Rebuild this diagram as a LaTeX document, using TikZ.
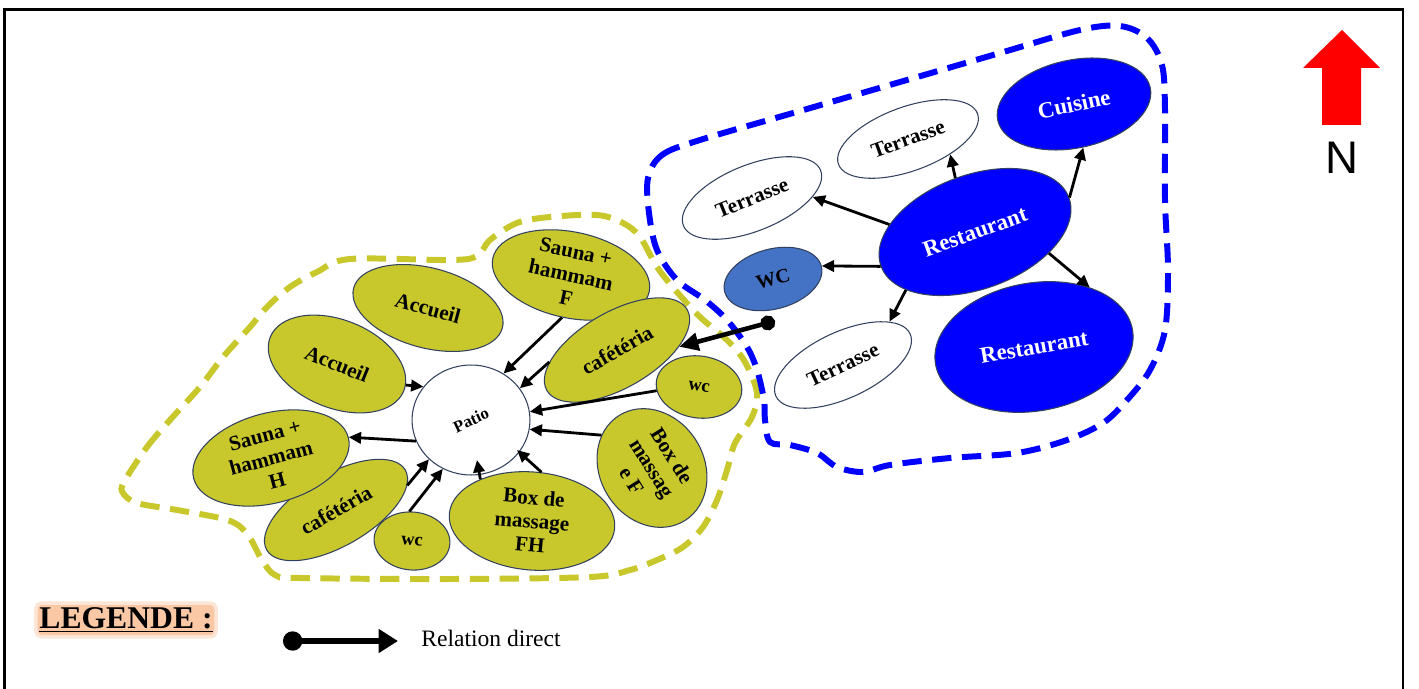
\documentclass[tikz,border=0pt]{standalone}
\usepackage{fontspec}
\setmainfont{Liberation Serif}
\newfontfamily\northfont{Liberation Sans}
\usepackage{xcolor}
\usepackage{graphicx}
\usetikzlibrary{shapes.geometric, arrows.meta, calc}

\definecolor{zoneolive}{RGB}{200,200,45}
\definecolor{zoneblue}{RGB}{0,0,255}
\definecolor{wcblue}{RGB}{68,114,196}
\definecolor{edgecol}{RGB}{50,65,95}
\definecolor{glow}{RGB}{250,200,165}

\begin{document}
\begin{tikzpicture}[x=0.02cm, y=-0.02cm,
    % One unit is one pixel of the plan, y runs downwards
    every node/.style={inner sep=0pt, font=\bfseries},
    room/.style={ellipse, draw=edgecol, line width=0.6pt, align=center, inner sep=-4pt},
    yroom/.style={room, fill=zoneolive, font=\bfseries\fontsize{12}{13.5}\selectfont},
    wroom/.style={room, fill=white, font=\bfseries\fontsize{12}{13}\selectfont},
    broom/.style={room, fill=zoneblue, text=white, font=\bfseries\fontsize{13}{14}\selectfont},
    semi/.style 2 args={minimum width=#1*0.04cm, minimum height=#2*0.04cm},
    rel/.style={-{Triangle[length=7pt,width=6.5pt]}, line width=1.6pt},
    bigrel/.style={{Circle[length=8.5pt]}-{Triangle[length=11pt,width=10pt]}, line width=2.6pt},
    zone/.style={line width=3.4pt, dash pattern=on 11pt off 6pt}
  ]
  \useasboundingbox (0,0) rectangle (1419,689);

  % --- Frame ---
  \draw[line width=1.4pt] (4.5,700) -- (4.5,9.5) -- (1403,9.5) -- (1403,700);

  % --- Zones (dashed outlines) ---
  \draw[zone, draw=zoneolive] plot[smooth cycle, tension=0.55] coordinates {
      (124,482) (147,447) (170,420) (200,387) (223,357) (250,327) (267,307)
      (290,287) (317,272) (350,259) (450,260) (477,256) (490,240) (517,223)
      (550,217) (597,215) (623,223) (640,237) (657,267) (677,292) (700,317)
      (727,340) (745,362) (757,393) (752,417) (735,443) (727,470) (717,500)
      (703,527) (683,547) (657,560) (630,570) (590,577) (450,579) (300,578)
      (275,575) (262,560) (250,538) (238,525) (220,518) (177,510) (137,503)
      (123,493)};
  \draw[zone, draw=zoneblue] plot[smooth cycle, tension=0.55] coordinates {
      (648,178) (662,155) (700,140) (800,111) (900,82) (1000,53) (1080,30)
      (1120,26) (1147,38) (1162,65) (1165,110) (1165,200) (1168,270)
      (1165,330) (1150,370) (1127,400) (1103,423) (1067,440) (1017,453)
      (950,458) (890,465) (863,472) (837,467) (817,453) (790,445) (770,442)
      (765,420) (764,400) (757,370) (747,347) (727,320) (705,300) (677,280)
      (657,250) (649,213)};

  % --- Left zone: rooms around the patio ---
  \node[room, fill=white, semi={59}{55},
        font=\bfseries\fontsize{9.5}{10}\selectfont] (patio) at (471,420) {\rotatebox{25}{Patio}};
  \node[yroom, semi={77}{40}, rotate=-15] (accT) at (428,308) {Accueil};
  \node[yroom, semi={72}{44}, rotate=-22] (accL) at (337,364) {Accueil};
  \node[yroom, semi={80}{43}, rotate=-12] (saunaF) at (571,275) {Sauna +\\hammam\\F};
  \node[yroom, semi={81}{38}, rotate=30] (cafR) at (617,350) {cafétéria};
  \node[yroom, semi={43}{31}, rotate=-8, font=\bfseries\fontsize{10.5}{11}\selectfont] (wcR) at (699,387) {wc};
  \node[yroom, semi={62}{52}, rotate=-58] (boxF) at (652,468) {Box de\\massag\\e F};
  \node[yroom, semi={83}{49}, rotate=-5] (boxFH) at (532,521) {Box de\\massage\\FH};
  \node[yroom, semi={38}{29}, rotate=-5, font=\bfseries\fontsize{10.5}{11}\selectfont] (wcB) at (412,541) {wc};
  \node[yroom, semi={80}{36}, rotate=30] (cafL) at (336,510) {cafétéria};
  \node[yroom, semi={80}{45}, rotate=15] (saunaH) at (271,458) {Sauna +\\hammam\\H};

  \draw[rel] (saunaF.south) -- (patio.55);
  \draw[rel] (cafR.160) -- (patio.33);
  \draw[rel] (wcR.193) -- (patio.8);
  \draw[rel] (boxF.205) -- (patio.-9);
  \draw[rel] (boxFH.84) -- ($(patio.center)+(46,30)$);
  \draw[rel] (boxFH.146) -- ($(patio.center)+(6,40)$);
  \draw[rel] (wcB.100) -- (patio.-120);
  \draw[rel] (cafL.-11) -- (patio.-137);
  \draw[rel] (patio.-159) -- (saunaH.east);
  \draw[rel] (accL.5) -- (patio.145);

  % --- Right zone: restaurant ---
  \node[broom, semi={100}{57}, rotate=20] (resto) at (975,232) {Restaurant};
  \node[broom, semi={78}{44}, rotate=12] (cuisine) at (1074,104) {Cuisine};
  \node[wroom, semi={74}{32}, rotate=20] (terrT) at (908,139) {Terrasse};
  \node[wroom, semi={74}{33}, rotate=22] (terrL) at (752,198) {Terrasse};
  \node[room, fill=wcblue, semi={50}{30}, rotate=15,
        font=\bfseries\fontsize{11.3}{12}\selectfont] (wc) at (773,279) {WC};
  \node[wroom, semi={74}{33}, rotate=25] (terrB) at (843,365) {Terrasse};
  \node[broom, semi={100}{64}, rotate=10] (restoB) at (1034,347) {Restaurant};

  \draw[rel] (resto.north) -- (terrT.-40);
  \draw[rel] (resto.east) -- (cuisine.south);
  \draw[rel] (resto.155) -- (terrL.-21);
  \draw[rel] (resto.west) -- (wc.east);
  \draw[rel] (resto.200) -- (terrB.18);
  \draw[rel] (resto.-36) -- (restoB.37);

  % link between the two zones
  \coordinate (wcdot) at (775,321);
  \draw[bigrel] (wcdot) -- (cafR.-27);

  % --- North arrow ---
  \fill[red] (1342,30) -- (1380,68) -- (1361,68) -- (1361,125) -- (1322,125)
      -- (1322,68) -- (1303,68) -- cycle;
  \node[font=\northfont\fontsize{26}{26}\selectfont] (north) at (1342,158) {N};

  % --- Legend ---
  \node[fill=glow, draw=glow!45, line width=2pt, rounded corners=3pt,
        inner xsep=2pt, inner ysep=2.5pt,
        font=\bfseries\fontsize{18}{18}\selectfont] (legende) at (126,620) {\underline{LEGENDE :}};
  \coordinate (legA) at (283,641);
  \coordinate (legB) at (398,641);
  \draw[{Circle[length=11pt]}-{Triangle[length=11pt,width=13pt]}, line width=3.4pt] (legA) -- (legB);
  \node[font=\fontsize{13.4}{14}\selectfont, anchor=west] (reltxt) at (421,638) {Relation direct};
\end{tikzpicture}
\end{document}
